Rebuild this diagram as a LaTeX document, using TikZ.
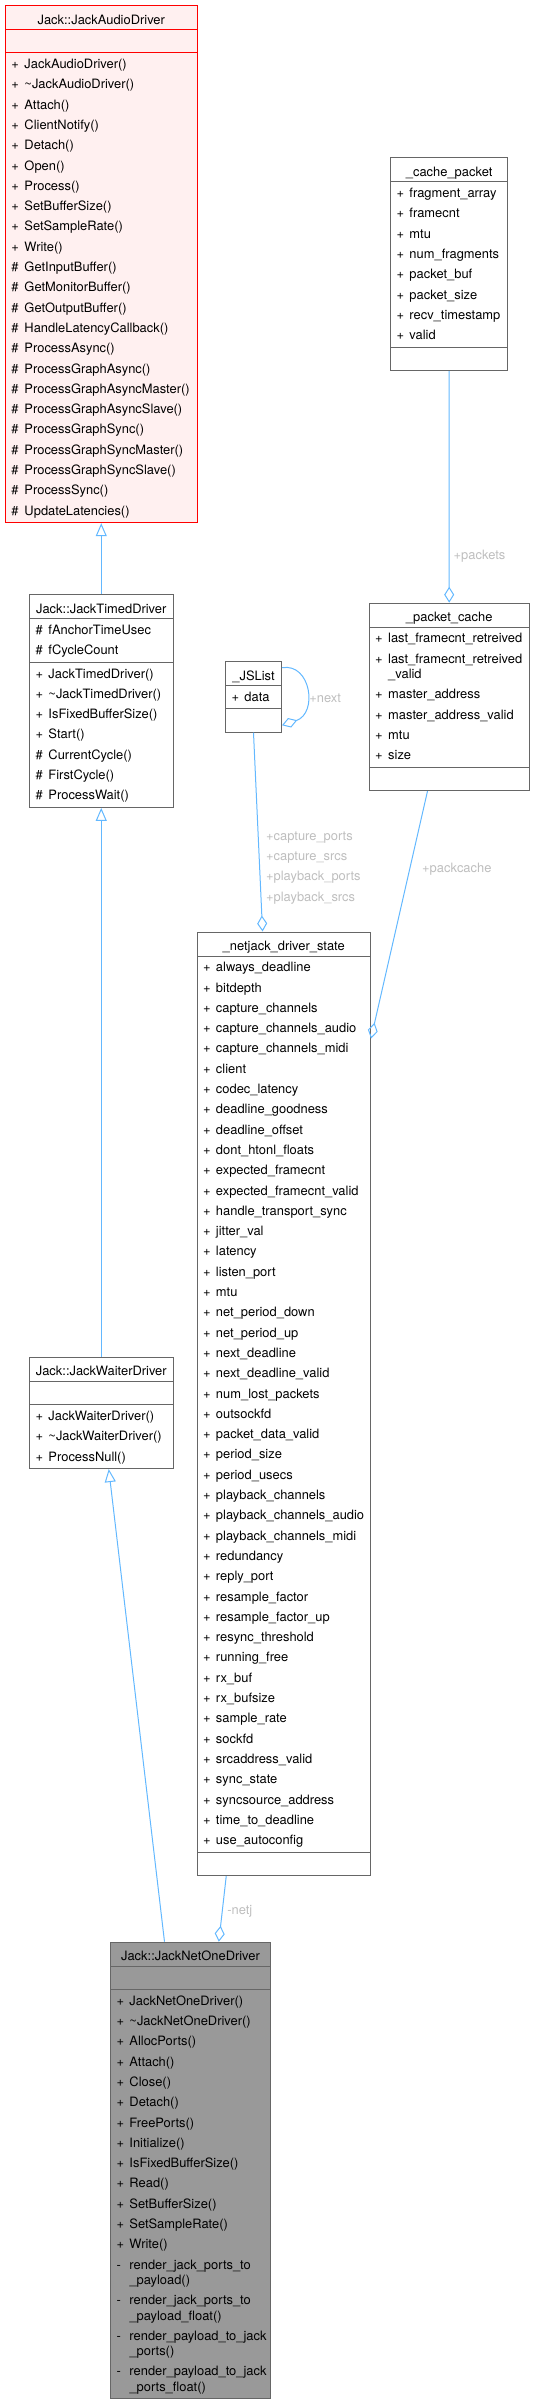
\documentclass[tikz,border=0pt]{standalone}
\usepackage{fontspec}
\setmainfont{TeX Gyre Heros}
\usetikzlibrary{shapes.multipart, arrows.meta, positioning}
\definecolor{edgeblue}{HTML}{63B8FF}
\definecolor{lblgray}{HTML}{BEBEBE}
\definecolor{boxgray}{HTML}{666666}
\definecolor{basefill}{HTML}{FFF0F0}
\definecolor{curfill}{HTML}{999999}
\newcommand{\mem}[2]{\mbox{\makebox[13pt][l]{#1}#2}\strut}
\newcommand{\ttl}[1]{\makebox[\hsize][c]{\rule[-4pt]{0pt}{21pt}#1}}
\tikzstyle{classbox} = [rectangle split, rectangle split parts=3, draw=boxgray, fill=white, line width=1pt, inner xsep=6pt, inner ysep=1pt, align=left, font=\fontsize{12.9pt}{20.3pt}\selectfont]
\tikzstyle{basebox} = [classbox, draw=red, fill=basefill]
\tikzstyle{thisbox} = [classbox, fill=curfill]
\tikzstyle{inherit} = [draw=edgeblue, line width=1pt, -{Triangle[open, length=13pt, width=11pt]}]
\tikzstyle{aggr} = [draw=edgeblue, line width=1pt, -{Diamond[open, length=16pt, width=10pt]}]
\tikzstyle{elabel} = [text=lblgray, inner sep=2pt, anchor=west, align=left, font=\fontsize{12.9pt}{20.3pt}\selectfont]

\begin{document}
\begin{tikzpicture}[x=1pt, y=-1pt]
    \useasboundingbox (0,0) rectangle (534,2399);
    \node (audio) [basebox, text width=179.5pt, anchor=north west] at (5,5) {\ttl{Jack::JackAudioDriver}
        \nodepart{two}\strut
        \nodepart{three}\mem{+}{JackAudioDriver()}\\
        \mem{+}{\textasciitilde JackAudioDriver()}\\
        \mem{+}{Attach()}\\
        \mem{+}{ClientNotify()}\\
        \mem{+}{Detach()}\\
        \mem{+}{Open()}\\
        \mem{+}{Process()}\\
        \mem{+}{SetBufferSize()}\\
        \mem{+}{SetSampleRate()}\\
        \mem{+}{Write()}\\
        \mem{\#}{GetInputBuffer()}\\
        \mem{\#}{GetMonitorBuffer()}\\
        \mem{\#}{GetOutputBuffer()}\\
        \mem{\#}{HandleLatencyCallback()}\\
        \mem{\#}{ProcessAsync()}\\
        \mem{\#}{ProcessGraphAsync()}\\
        \mem{\#}{ProcessGraphAsyncMaster()}\\
        \mem{\#}{ProcessGraphAsyncSlave()}\\
        \mem{\#}{ProcessGraphSync()}\\
        \mem{\#}{ProcessGraphSyncMaster()}\\
        \mem{\#}{ProcessGraphSyncSlave()}\\
        \mem{\#}{ProcessSync()}\\
        \mem{\#}{UpdateLatencies()}};
    \node (timed) [classbox, text width=131.5pt, below=71pt of audio] {\ttl{Jack::JackTimedDriver}
        \nodepart{two}\mem{\#}{fAnchorTimeUsec}\\
        \mem{\#}{fCycleCount}
        \nodepart{three}\mem{+}{JackTimedDriver()}\\
        \mem{+}{\textasciitilde JackTimedDriver()}\\
        \mem{+}{IsFixedBufferSize()}\\
        \mem{+}{Start()}\\
        \mem{\#}{CurrentCycle()}\\
        \mem{\#}{FirstCycle()}\\
        \mem{\#}{ProcessWait()}};
    \node (waiter) [classbox, text width=131.5pt, below=549pt of timed] {\ttl{Jack::JackWaiterDriver}
        \nodepart{two}\strut
        \nodepart{three}\mem{+}{JackWaiterDriver()}\\
        \mem{+}{\textasciitilde JackWaiterDriver()}\\
        \mem{+}{ProcessNull()}};
    \node (cpacket) [classbox, text width=105.3pt, anchor=north west] at (390,157.3) {\ttl{\_cache\_packet}
        \nodepart{two}\mem{+}{fragment\_array}\\
        \mem{+}{framecnt}\\
        \mem{+}{mtu}\\
        \mem{+}{num\_fragments}\\
        \mem{+}{packet\_buf}\\
        \mem{+}{packet\_size}\\
        \mem{+}{recv\_timestamp}\\
        \mem{+}{valid}
        \nodepart{three}\strut};
    \node (pcache) [classbox, text width=148pt, anchor=north west] at (368.7,602.7) {\ttl{\_packet\_cache}
        \nodepart{two}\mem{+}{last\_framecnt\_retreived}\\
        \mem{+}{last\_framecnt\_retreived}\\[-5pt]
        \mem{}{\_valid}\\
        \mem{+}{master\_address}\\
        \mem{+}{master\_address\_valid}\\
        \mem{+}{mtu}\\
        \mem{+}{size}
        \nodepart{three}\strut};
    \node (jslist) [classbox, text width=44pt, anchor=north west] at (225,661) {\ttl{\_JSList}
        \nodepart{two}\mem{+}{data}
        \nodepart{three}\strut};
    \node (netjack) [classbox, text width=161.5pt, anchor=north west] at (196.5,931.5) {\ttl{\_netjack\_driver\_state}
        \nodepart{two}\mem{+}{always\_deadline}\\
        \mem{+}{bitdepth}\\
        \mem{+}{capture\_channels}\\
        \mem{+}{capture\_channels\_audio}\\
        \mem{+}{capture\_channels\_midi}\\
        \mem{+}{client}\\
        \mem{+}{codec\_latency}\\
        \mem{+}{deadline\_goodness}\\
        \mem{+}{deadline\_offset}\\
        \mem{+}{dont\_htonl\_floats}\\
        \mem{+}{expected\_framecnt}\\
        \mem{+}{expected\_framecnt\_valid}\\
        \mem{+}{handle\_transport\_sync}\\
        \mem{+}{jitter\_val}\\
        \mem{+}{latency}\\
        \mem{+}{listen\_port}\\
        \mem{+}{mtu}\\
        \mem{+}{net\_period\_down}\\
        \mem{+}{net\_period\_up}\\
        \mem{+}{next\_deadline}\\
        \mem{+}{next\_deadline\_valid}\\
        \mem{+}{num\_lost\_packets}\\
        \mem{+}{outsockfd}\\
        \mem{+}{packet\_data\_valid}\\
        \mem{+}{period\_size}\\
        \mem{+}{period\_usecs}\\
        \mem{+}{playback\_channels}\\
        \mem{+}{playback\_channels\_audio}\\
        \mem{+}{playback\_channels\_midi}\\
        \mem{+}{redundancy}\\
        \mem{+}{reply\_port}\\
        \mem{+}{resample\_factor}\\
        \mem{+}{resample\_factor\_up}\\
        \mem{+}{resync\_threshold}\\
        \mem{+}{running\_free}\\
        \mem{+}{rx\_buf}\\
        \mem{+}{rx\_bufsize}\\
        \mem{+}{sample\_rate}\\
        \mem{+}{sockfd}\\
        \mem{+}{srcaddress\_valid}\\
        \mem{+}{sync\_state}\\
        \mem{+}{syncsource\_address}\\
        \mem{+}{time\_to\_deadline}\\
        \mem{+}{use\_autoconfig}
        \nodepart{three}\strut};
    \node (netone) [thisbox, text width=148pt, anchor=north west] at (110,1941.7) {\ttl{Jack::JackNetOneDriver}
        \nodepart{two}\strut
        \nodepart{three}\mem{+}{JackNetOneDriver()}\\
        \mem{+}{\textasciitilde JackNetOneDriver()}\\
        \mem{+}{AllocPorts()}\\
        \mem{+}{Attach()}\\
        \mem{+}{Close()}\\
        \mem{+}{Detach()}\\
        \mem{+}{FreePorts()}\\
        \mem{+}{Initialize()}\\
        \mem{+}{IsFixedBufferSize()}\\
        \mem{+}{Read()}\\
        \mem{+}{SetBufferSize()}\\
        \mem{+}{SetSampleRate()}\\
        \mem{+}{Write()}\\
        \mem{-}{render\_jack\_ports\_to}\\[-5pt]
        \mem{}{\_payload()}\\
        \mem{-}{render\_jack\_ports\_to}\\[-5pt]
        \mem{}{\_payload\_float()}\\
        \mem{-}{render\_payload\_to\_jack}\\[-5pt]
        \mem{}{\_ports()}\\
        \mem{-}{render\_payload\_to\_jack}\\[-5pt]
        \mem{}{\_ports\_float()}};
    \draw [inherit] (timed.north) -- (audio.south);
    \draw [inherit] (waiter.north) -- (timed.south);
    \draw [inherit] ([xshift=-26pt]netone.north) -- ([xshift=7.5pt]waiter.south);
    \draw [aggr] (cpacket.south) -- node[elabel, pos=0.8, xshift=2pt] {+packets} (pcache.north);
    \draw [aggr] ([yshift=-6.7pt]jslist.north east) .. controls +(29,-5) and +(36,-12) .. node[elabel, pos=0.6, xshift=1pt] {+next} ([yshift=7.3pt]jslist.south east);
    \draw [aggr] (jslist.south) -- node[elabel, pos=0.68, xshift=4pt] {+capture\_ports\\+capture\_srcs\\+playback\_ports\\+playback\_srcs} ([xshift=-21.2pt]netjack.north);
    \draw [aggr] ([xshift=-21.7pt]pcache.south) -- node[elabel, pos=0.315, xshift=10pt] {+packcache} ([yshift=-107pt]netjack.north east);
    \draw [aggr] ([xshift=-57.5pt]netjack.south) -- node[elabel, pos=0.53, xshift=2.5pt] {-netj} ([xshift=28.3pt]netone.north);
\end{tikzpicture}
\end{document}
